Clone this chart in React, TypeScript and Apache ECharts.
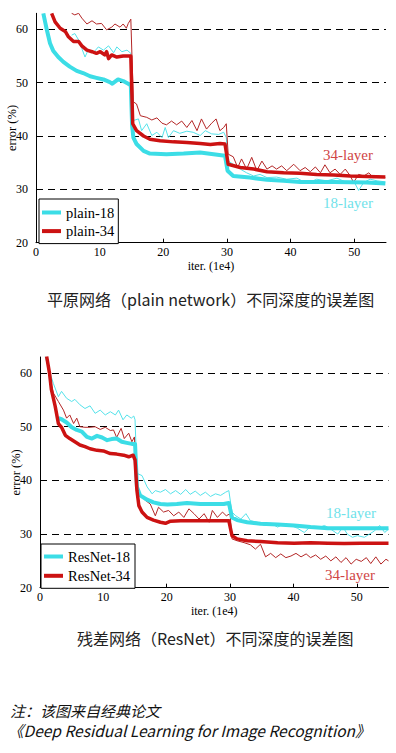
import React, { useEffect, useRef } from 'react';
import * as echarts from 'echarts';

// ---- Chart 1: plain networks (x: iter. 1e4, y: error %) ----
const plain18Val: number[][] = [[1.15,63],[1.7,59.9],[2.2,57.4],[2.7,56],[3.5,54.8],[4.3,53.9],[5.3,53],[6.4,52.2],[7.4,51.8],[8.5,51.2],[9.5,50.9],[10.6,50.6],[11.6,50.1],[12,49.8],[12.9,50.6],[13.7,50.3],[14.5,49.8],[14.9,49.5],[15.1,42],[15.3,39.7],[15.8,38.5],[16.9,37.2],[17.9,36.7],[20.5,36.6],[23.2,36.7],[25.8,36.9],[27.9,36.6],[29.7,36.3],[30.1,33.5],[31,32.5],[33.6,32.2],[36.3,31.8],[38.9,31.6],[41.5,31.4],[46.8,31.4],[52,31.3],[54.9,31.1]];
const plain34Val: number[][] = [[2.46,63],[3,61.4],[3.8,60.2],[4.6,59.6],[5.1,58.6],[5.9,57.7],[6.7,57.7],[7.2,56.9],[8,56.1],[8.8,55.8],[9.5,55.5],[10.1,55.8],[10.8,55.2],[11.1,55.8],[11.4,54.5],[11.9,55.2],[12.7,54.8],[13.7,55],[14.9,55],[15.2,42.3],[15.8,41],[16.9,40],[17.9,39.4],[19.5,39.1],[21.6,38.9],[23.7,38.8],[25.8,38.6],[27.4,38.4],[28.9,38.6],[29.7,38.5],[30.2,34.7],[32.1,34.1],[34.2,33.8],[36.3,33.3],[38.9,33.1],[41.5,33],[44.1,32.8],[46.8,32.7],[49.4,32.5],[52,32.4],[54.9,32.3]];
const plain34Train: number[][] = [[5.6,63],[6.1,62.7],[6.7,63],[7.2,62.1],[8,61],[8.8,61.6],[9.5,61],[10.3,61.1],[11.1,59.9],[11.9,60.4],[12.4,61],[13.2,60.4],[13.7,61],[14.2,60.2],[14.5,61.1],[14.9,61.9],[15.3,46.4],[15.8,46],[16.4,43.8],[17.4,43.5],[18.2,43],[19,43.4],[19.8,42.4],[20.5,42.1],[21.3,42.8],[22.1,42.1],[22.9,42.8],[23.7,41.6],[24.5,42.9],[25.3,41],[26,43.2],[26.8,41.3],[27.6,42.4],[28.3,43.2],[28.9,41],[29.5,41.6],[29.9,42.3],[30.2,36.6],[31,36.1],[31.7,34.1],[32.3,35.7],[33.1,33.8],[33.9,36],[34.7,33.5],[35.5,35.3],[36.3,33.8],[37.1,34.4],[37.8,33.8],[38.6,34.4],[39.4,33.5],[40.5,34.7],[41.5,33.5],[42.3,34.1],[43.1,33.3],[43.9,34.2],[44.7,33.1],[45.4,34.6],[46.2,33.1],[47,33.8],[47.8,32.8],[48.6,33.8],[49.4,32.5],[49.9,31.3],[50.7,32.8],[51.5,32.5],[52.3,33.1],[53,32.2],[53.8,32.5],[54.9,32.2]];
const plain18Train: number[][] = [[5.6,58.9],[6.1,59.2],[6.7,58],[7.2,56.4],[7.7,54.8],[8.2,56.1],[9,55.6],[9.8,56.7],[10.6,56.1],[11.4,56.9],[12.2,55.6],[12.7,56.7],[13.5,55.8],[14.3,56.1],[14.9,55.5],[15.3,42.9],[16.1,43.2],[16.6,41],[17.4,42.3],[18.2,40.1],[19,40.7],[19.8,39.7],[20.3,41.6],[20.8,39.7],[21.6,41],[22.6,40.5],[23.7,40.9],[24.7,40.7],[25.8,40.1],[26.6,41],[27.6,40.4],[28.7,40.3],[29.5,40.7],[29.9,39.7],[30.2,35.3],[31,34.7],[32.1,33.8],[33.1,33.1],[34.2,32.5],[35.2,32.8],[36.3,32.2],[37.8,32.3],[39.4,31.9],[41,32.1],[42.6,31.1],[44.1,31.9],[45.7,31.6],[47.3,32.1],[48.8,31.3],[49.9,31.6],[50.7,29.8],[51.5,31.3],[52.5,31.9],[53.6,31.6],[54.9,31.4]];

// ---- Chart 2: residual networks ----
const resnet18Val: number[][] = [[2.9,51.6],[3.4,51.4],[4.2,50.8],[5,49.9],[5.8,49.4],[6.6,49.1],[7.4,48.1],[8.2,47.8],[9,48.3],[9.8,48],[10.6,47.5],[11.3,47.7],[12.1,47.8],[12.9,47.2],[13.7,47],[14.5,46.8],[15,46.8],[15.3,38.8],[15.8,37.2],[16.9,36.4],[17.9,35.9],[19,35.6],[20.1,35.5],[21.6,35.6],[23.2,35.8],[25.3,35.6],[27.4,35.6],[29,35.6],[29.8,35.8],[30.3,33.1],[31.1,32.6],[32.7,32.2],[34.8,31.9],[37.5,31.8],[40.1,31.6],[42.7,31.3],[45.4,31.1],[48,31.1],[50.7,31.1],[53.3,31.1],[55,31.1]];
const resnet34Val: number[][] = [[1.05,63.1],[1.5,60],[1.8,56.9],[2.4,53.8],[2.9,50.6],[3.4,49.9],[4,48.4],[4.7,47.8],[5.5,47.2],[6.3,46.6],[7.1,46.3],[7.9,45.9],[9,45.6],[10,45.5],[11.1,45],[12.1,44.9],[13.2,44.7],[14,44.4],[14.7,44.7],[15,43.8],[15.3,38.1],[15.6,35.3],[16.1,34.1],[16.9,33.1],[17.9,32.6],[19,32.2],[19.8,32],[20.6,32.4],[22.2,32.5],[24.3,32.5],[26.4,32.5],[28.5,32.5],[29.8,32.5],[30.3,29.7],[31.1,29.1],[32.7,28.75],[34.8,28.6],[37.5,28.4],[40.1,28.3],[42.7,28.4],[45.4,28.3],[48,28.25],[50.7,28.3],[53.3,28.3],[55,28.3]];
const resnet18Train: number[][] = [[0.8,63.1],[1.6,60],[2.1,58.1],[2.9,55.6],[3.4,56.6],[4.2,55.3],[5,54.7],[5.5,55.1],[6.3,54.1],[7.1,53.4],[7.9,53.9],[8.7,52.5],[9.5,53.1],[10.3,52.2],[11.1,52.8],[11.9,52.2],[12.4,53.1],[13.1,51.3],[13.7,52.2],[14.4,51.6],[14.8,52],[15,51.3],[15.3,41.3],[16.1,40.9],[16.9,38.8],[17.7,37.5],[18.2,38.1],[19,37.8],[19.8,38.3],[20.6,37.5],[21.4,38.1],[22.2,37.4],[23,38.3],[23.7,37.4],[24.5,38],[25.3,37.2],[26.1,37.8],[26.9,37],[27.7,37.5],[28.5,37.2],[29.3,37.8],[29.8,38.1],[30.3,34.1],[30.9,33.4],[31.7,32.8],[32.5,33.8],[33.2,32.5],[34.3,32.2],[35.4,31.6],[36.4,32],[37.5,31.3],[38.5,31.9],[39.6,31.6],[40.6,31.1],[41.7,30.3],[42.7,31.4],[43.8,31.1],[44.9,31.6],[45.9,30.9],[47,30],[47.8,31.3],[48.5,30],[49.3,29.4],[50.1,29.7],[51.2,29.4],[52,30],[52.8,30.6],[53.6,31.6],[54.4,30.3],[55,30.9]];
const resnet34Train: number[][] = [[1.05,62.5],[1.6,58.8],[2.1,56.3],[2.9,54.7],[3.7,53.1],[4.2,51.6],[4.7,52.2],[5.3,50.6],[5.8,51.6],[6.3,50],[7.1,49.9],[7.9,49.9],[8.7,50],[9.5,49.5],[10.3,49.9],[11.1,49.3],[11.6,49.4],[12.1,48],[12.8,49.7],[13.3,47.8],[14,48.8],[14.5,47.2],[14.9,48.1],[15.3,38.8],[15.8,37.2],[16.6,36.3],[17.4,35.6],[18.2,33.4],[18.7,35],[19.5,34.1],[20.3,34.4],[21.1,33.4],[21.9,34.1],[22.7,33.1],[23.5,34.7],[24.3,33.8],[25.1,32.8],[25.9,33.8],[26.7,32.2],[27.2,34.4],[28,33.1],[28.8,34.1],[29.4,33.4],[30,33.8],[30.3,29.1],[31.1,28.75],[32.2,28.4],[33.2,28],[34,27.2],[34.8,28.1],[35.6,25.75],[36.4,26.4],[37.2,25.6],[38,26.3],[38.8,25.6],[39.6,25.9],[40.4,26.4],[41.2,25.75],[42,26.3],[42.7,25.6],[43.5,26.1],[44.3,25.3],[45.1,25.9],[45.9,25],[46.7,25.75],[47.5,24.7],[48.3,25.6],[49.1,24.4],[49.9,25.3],[50.7,24.9],[51.5,25.6],[52.2,24.5],[53,25.75],[53.8,24.4],[54.6,25.3],[55,25]];

const plainLegend = ['plain-18', 'plain-34'];
const resLegend = ['ResNet-18', 'ResNet-34'];
const xAxisName = 'iter. (1e4)';
const yAxisName = 'error (%)';
const caption1 = '平原网络（plain network）不同深度的误差图';
const caption2 = '残差网络（ResNet）不同深度的误差图';
const note1 = '注：该图来自经典论文';
const note2 = '《Deep Residual Learning for Image Recognition》';

const CYAN = '#3cdde6';
const CYAN_THIN = '#55e2ea';
const RED = '#cc1212';
const RED_THIN = '#b32626';
const SERIF = '"Liberation Serif", "Times New Roman", serif';
const SANS = '"Noto Sans CJK SC", "Noto Sans", sans-serif';

function lineSeries(name: string, data: number[][], color: string, width: number, idx: number, z: number) {
  return {
    type: 'line',
    name,
    data,
    xAxisIndex: idx,
    yAxisIndex: idx,
    symbol: 'none',
    z,
    lineStyle: { color, width, join: 'round' },
    itemStyle: { color },
  };
}

function xAxis(idx: number) {
  return {
    type: 'value',
    gridIndex: idx,
    min: 0,
    max: 55,
    interval: 10,
    name: xAxisName,
    nameLocation: 'middle',
    nameGap: 17,
    nameMoveOverlap: false,
    nameTextStyle: { fontFamily: SERIF, fontSize: 12, lineHeight: 12, color: '#000' },
    axisLine: { show: true, lineStyle: { color: '#000', width: 1 } },
    axisTick: { show: true, inside: true, length: 4, lineStyle: { color: '#000' } },
    axisLabel: { fontFamily: SERIF, fontSize: 12, lineHeight: 12, color: '#000', margin: 3, showMaxLabel: false },
    splitLine: { show: false },
  };
}

function yAxis(idx: number) {
  return {
    type: 'value',
    gridIndex: idx,
    min: 20,
    max: 63,
    interval: 10,
    name: yAxisName,
    nameLocation: 'middle',
    nameGap: 18,
    nameMoveOverlap: false,
    nameTextStyle: { fontFamily: SERIF, fontSize: 12.5, color: '#000' },
    axisLine: { show: true, lineStyle: { color: '#000', width: 1 } },
    axisTick: { show: true, inside: true, length: 4, lineStyle: { color: '#000' } },
    axisLabel: { fontFamily: SERIF, fontSize: 12, color: '#000', margin: 8, showMaxLabel: false },
    splitLine: { show: true, showMinLine: false, showMaxLine: false, lineStyle: { color: '#000', type: [7, 5], width: 1 } },
  };
}

function legend(names: string[], left: number, top: number, padding: number[], gap: number) {
  return {
    orient: 'vertical',
    left,
    top,
    data: names,
    icon: 'rect',
    itemWidth: 19,
    itemHeight: 4,
    itemGap: gap,
    padding,
    borderColor: '#000',
    borderWidth: 1,
    borderRadius: 0,
    backgroundColor: '#fff',
    selectedMode: false,
    textStyle: { fontFamily: SERIF, fontSize: 14.5, color: '#000', lineHeight: 14 },
  };
}

function text(x: number, y: number, t: string, font: any) {
  return { type: 'text', x, y, style: { text: t, verticalAlign: 'middle', ...font } };
}

export default function App() {
  const ref = useRef<HTMLDivElement>(null);
  useEffect(() => {
    const chart = echarts.init(ref.current!, null, { renderer: 'svg' });
    const annoFont = (color: string) => ({ fontFamily: SERIF, fontSize: 15, fill: color, align: 'left' });
    const capFont = { fontFamily: SANS, fontSize: 16, fill: '#222', align: 'left' };
    const noteFont = { fontFamily: SANS, fontSize: 15, lineHeight: 15, fill: '#111', fontStyle: 'italic', align: 'left' };
    chart.setOption({
      animation: false,
      backgroundColor: '#fff',
      grid: [
        { left: 36, top: 13.3, width: 350, height: 229.4, containLabel: false, outerBoundsMode: 'none' },
        { left: 40, top: 357, width: 348.5, height: 230.7, containLabel: false, outerBoundsMode: 'none' },
      ],
      xAxis: [xAxis(0), xAxis(1)],
      yAxis: [yAxis(0), yAxis(1)],
      legend: [
        legend(plainLegend, 39, 199, [6, 4, 5, 3], 3.6),
        legend(resLegend, 41, 544, [5, 5, 5, 3], 4.3),
      ],
      series: [
        lineSeries('plain-18 train', plain18Train, CYAN_THIN, 1, 0, 2),
        lineSeries('plain-34 train', plain34Train, RED_THIN, 1, 0, 2),
        lineSeries('plain-18', plain18Val, CYAN, 4, 0, 3),
        lineSeries('plain-34', plain34Val, RED, 3.5, 0, 4),
        lineSeries('ResNet-18 train', resnet18Train, CYAN_THIN, 1, 1, 2),
        lineSeries('ResNet-34 train', resnet34Train, RED_THIN, 1, 1, 2),
        lineSeries('ResNet-18', resnet18Val, CYAN, 4, 1, 3),
        lineSeries('ResNet-34', resnet34Val, RED, 3.5, 1, 4),
      ],
      graphic: [
        text(323, 155, '34-layer', annoFont('#d04545')),
        text(323, 202.5, '18-layer', annoFont('#6fe2ea')),
        text(326, 512.5, '18-layer', annoFont('#6fe2ea')),
        text(325, 574.5, '34-layer', annoFont('#d04545')),
        text(47, 298.5, caption1, capFont),
        text(77, 637.5, caption2, capFont),
        text(10, 710, note1, noteFont),
        text(8, 730, note2, { ...noteFont, fontSize: 15.5 }),
      ],
    });
    return () => chart.dispose();
  }, []);
  return (
    <div
      ref={ref}
      style={{ position: 'fixed', left: 0, top: 0, width: 396, height: 753, background: '#fff' }}
    />
  );
}
